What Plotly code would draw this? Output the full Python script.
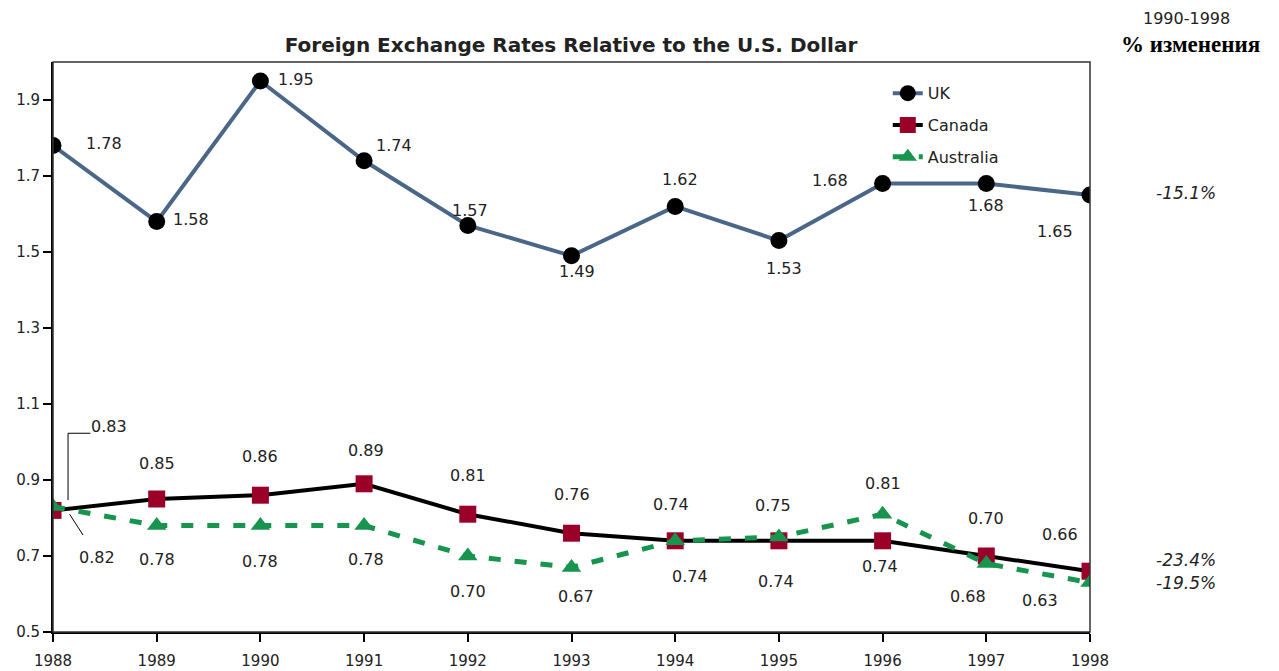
# -*- coding: utf-8 -*-
import plotly.graph_objects as go

# | data section |
years = [1988, 1989, 1990, 1991, 1992, 1993, 1994, 1995, 1996, 1997, 1998]
uk = [1.78, 1.58, 1.95, 1.74, 1.57, 1.49, 1.62, 1.53, 1.68, 1.68, 1.65]
canada = [0.82, 0.85, 0.86, 0.89, 0.81, 0.76, 0.74, 0.74, 0.74, 0.70, 0.66]
australia = [0.83, 0.78, 0.78, 0.78, 0.70, 0.67, 0.74, 0.75, 0.81, 0.68, 0.63]
change_labels = ["-15.1%", "-23.4%", "-19.5%"]
y_ticks = [0.5, 0.7, 0.9, 1.1, 1.3, 1.5, 1.7, 1.9]

# label offsets in px (xshift, yshift) -- first point of Canada/Australia uses callouts
uk_off = [(51, 2), (34, 2), (36, 2), (30, 15), (2, 15), (5, -16), (5, 27),
          (5, -28), (-53, 3), (0, -22), (-35, -36)]
ca_off = [None, (0, 36), (0, 39), (2, 33), (0, 39), (0, 39), (-4, 36),
          (-3, -41), (-3, -26), (0, 38), (-30, 37)]
au_off = [None, (0, -34), (0, -36), (2, -34), (0, -35), (4, -29), (15, -36),
          (-6, 32), (0, 31), (-18, -33), (-50, -18)]
change_shift = [2, 11, 0]

FONT = "DejaVu Sans, Arial, sans-serif"
TXT = "#222222"

fig = go.Figure()

fig.add_trace(go.Scatter(
    x=years, y=uk, name="UK", mode="lines+markers", legendgroup="uk",
    line={"color": "#4a6787", "width": 4},
    marker={"symbol": "circle", "size": 17, "color": "black"},
))
fig.add_trace(go.Scatter(
    x=years, y=canada, name="Canada", mode="lines+markers", legendgroup="ca",
    line={"color": "black", "width": 4},
    marker={"symbol": "square", "size": 17, "color": "#9a0028"},
))
fig.add_trace(go.Scatter(
    x=years, y=australia, name="Australia", mode="lines+markers", legendgroup="au",
    line={"color": "#17944e", "width": 5, "dash": "12px,14px"},
    marker={"symbol": "triangle-up", "size": 17, "color": "#17944e"},
))

# | value labels |
annotations = []
for vals, offs in ((uk, uk_off), (canada, ca_off), (australia, au_off)):
    for x, v, o in zip(years, vals, offs):
        if o is None:
            continue
        annotations.append(dict(
            x=x, y=v, text=f"{v:.2f}", showarrow=False,
            xshift=o[0], yshift=o[1],
            font={"family": FONT, "size": 16, "color": TXT},
        ))

# callouts for the first year
annotations.append(dict(x=years[0], y=australia[0], text=f"{australia[0]:.2f}",
                        showarrow=False, xanchor="left", xshift=36, yshift=80,
                        font={"family": FONT, "size": 16, "color": TXT}))
annotations.append(dict(x=years[0], y=canada[0], text=f"{canada[0]:.2f}",
                        showarrow=False, xshift=44, yshift=-47,
                        font={"family": FONT, "size": 16, "color": TXT}))

# percent change column
for txt, v, s in zip(change_labels, [uk[-1], canada[-1], australia[-1]], change_shift):
    annotations.append(dict(
        x=1.0926, xref="paper", y=v, yref="y", text=f"<i>{txt}</i>",
        showarrow=False, xanchor="center", yshift=s,
        font={"family": FONT, "size": 17, "color": TXT},
    ))
annotations.append(dict(x=1.0935, xref="paper", y=1.077, yref="paper",
                        text="1990-1998", showarrow=False,
                        xanchor="center", yanchor="middle",
                        font={"family": FONT, "size": 16, "color": TXT}))
annotations.append(dict(x=1.0965, xref="paper", y=1.030, yref="paper",
                        text="<b>% изменения</b>", showarrow=False,
                        xanchor="center", yanchor="middle",
                        font={"family": "Liberation Serif, Times New Roman, serif",
                              "size": 23, "color": "black"}))

shapes = [
    # frame (top / right)
    dict(type="rect", xref="paper", yref="paper", x0=0, y0=0, x1=1, y1=1,
         line={"color": "#333333", "width": 1.5}),
    # elbow callout
    dict(type="path", xref="x", yref="y",
         path="M 1988.145,0.847 L 1988.145,1.023 L 1988.36,1.023",
         line={"color": "black", "width": 1}),
    # diagonal callout
    dict(type="line", xref="x", yref="y", x0=1988.16, y0=0.81, x1=1988.29, y1=0.755,
         line={"color": "black", "width": 1}),
]

fig.update_layout(
    width=1279, height=671,
    margin={"l": 53, "r": 189, "t": 62, "b": 39},
    paper_bgcolor="white", plot_bgcolor="white",
    title={"text": "<b>Foreign Exchange Rates Relative to the U.S. Dollar</b>",
           "x": 571 / 1279, "xanchor": "center", "y": 1 - 45 / 671, "yanchor": "middle",
           "font": {"family": FONT, "size": 20, "color": TXT}},
    legend={"x": 0.805, "y": 0.975, "xanchor": "left", "yanchor": "top",
            "bgcolor": "rgba(0,0,0,0)", "tracegroupgap": 8,
            "font": {"family": FONT, "size": 16, "color": TXT}},
    annotations=annotations,
    shapes=shapes,
    showlegend=True,
)
fig.update_xaxes(range=[1988, 1998], tickvals=years, showgrid=False, zeroline=False,
                 showline=True, linecolor="black", linewidth=2, automargin=False,
                 ticks="outside", ticklen=8, tickwidth=2, tickcolor="black",
                 ticklabelstandoff=6,
                 tickfont={"family": FONT, "size": 15, "color": TXT})
fig.update_yaxes(range=[0.5, 2.0], tickvals=y_ticks, tickformat=".1f",
                 showgrid=False, zeroline=False, automargin=False,
                 showline=True, linecolor="black", linewidth=2,
                 ticks="outside", ticklen=8, tickwidth=2, tickcolor="black",
                 tickfont={"family": FONT, "size": 15, "color": TXT})

fig.write_html("out.html", config={"displayModeBar": False},
               post_script="document.body.style.margin='0';")
